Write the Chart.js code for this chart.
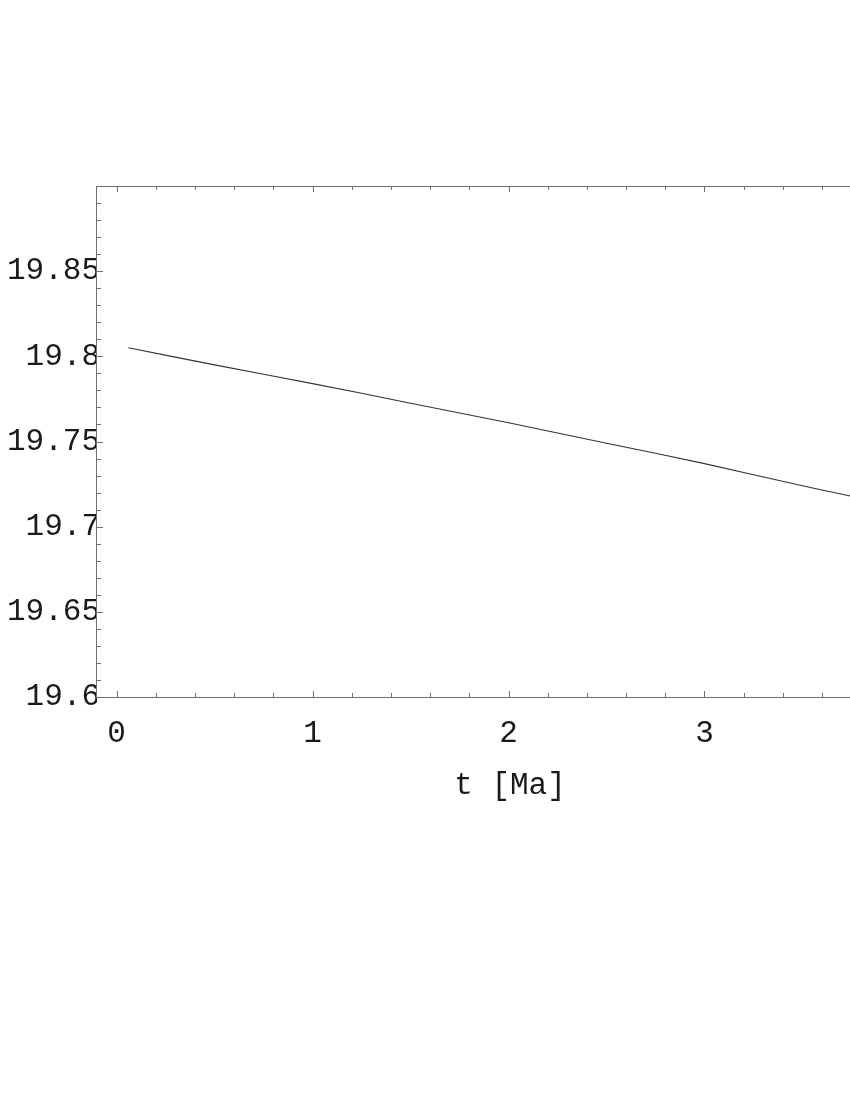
<!DOCTYPE html>
<html>
<head>
<meta charset="utf-8">
<script src="https://cdn.jsdelivr.net/npm/chart.js@4"></script>
<style>
  html, body { margin: 0; padding: 0; background: #fff; overflow: hidden; }
  #wrap { width: 930px; height: 1100px; }
</style>
</head>
<body>
<div id="wrap"><canvas id="myChart" width="930" height="1100"></canvas></div>
<script>
// values
const timeMa = [0.06, 0.5, 1.0, 1.5, 2.0, 2.5, 3.0, 3.5, 3.745];
const values = [19.805, 19.795, 19.784, 19.7725, 19.761, 19.749, 19.737, 19.724, 19.718];

const xTickLabels = [0, 1, 2, 3];
const yTickLabels = [19.6, 19.65, 19.7, 19.75, 19.8, 19.85];

const labelFont = { family: "'Liberation Mono', 'DejaVu Sans Mono', monospace", size: 31 };

// frame with inward ticks, like the original plot
const frameTicks = {
  id: 'frameTicks',
  afterDatasetsDraw(chart) {
    const { ctx, chartArea: { left, top, right, bottom }, scales: { x, y } } = chart;
    ctx.save();
    ctx.strokeStyle = '#6f6f6f';
    ctx.lineWidth = 1;
    ctx.strokeRect(Math.round(left) - 0.5, Math.round(top) + 0.5, right - left, bottom - top);

    ctx.beginPath();
    // x ticks: major every 1, minor every 0.2
    for (let i = Math.ceil(x.min / 0.2); i * 0.2 <= x.max; i++) {
      const v = i * 0.2;
      const len = (i % 5 === 0) ? 6 : 4;
      const px = Math.round(x.getPixelForValue(v)) + 0.5;
      ctx.moveTo(px, bottom); ctx.lineTo(px, bottom - len);
      ctx.moveTo(px, top); ctx.lineTo(px, top + len);
    }
    // y ticks: major every 0.05, minor every 0.01
    for (let i = Math.round(y.min / 0.01); i * 0.01 <= y.max + 1e-9; i++) {
      const len = (i % 5 === 0) ? 6 : 4;
      const py = Math.round(y.getPixelForValue(i * 0.01)) + 0.5;
      ctx.moveTo(left, py); ctx.lineTo(left + len, py);
      ctx.moveTo(right, py); ctx.lineTo(right - len, py);
    }
    ctx.stroke();
    ctx.restore();
  }
};

const ctx = document.getElementById('myChart').getContext('2d');

const config = {
  type: 'line',
  data: {
    datasets: [{
      data: timeMa.map((t, i) => ({ x: t, y: values[i] })),
      borderColor: '#333',
      borderWidth: 1.1,
      pointRadius: 0,
      fill: false,
      tension: 0.3
    }]
  },
  options: {
    responsive: false,
    animation: false,
    layout: { padding: { top: 186, right: 7, bottom: 283, left: 0 } },
    plugins: {
      legend: { display: false },
      tooltip: { enabled: false }
    },
    scales: {
      x: {
        type: 'linear',
        min: -0.1,
        max: 4.115,
        grid: { display: false, drawTicks: false },
        border: { display: false },
        afterBuildTicks(scale) {
          scale.ticks = xTickLabels.map(v => ({ value: v }));
        },
        ticks: {
          color: '#1a1a1a',
          font: labelFont,
          padding: 18,
          maxRotation: 0,
          autoSkip: false,
          callback: v => String(v)
        },
        title: {
          display: true,
          text: 't [Ma]',
          color: '#1a1a1a',
          font: labelFont,
          padding: { top: 0, bottom: 13 }
        },
        afterFit(scale) { scale.height = 120; }
      },
      y: {
        min: 19.6,
        max: 19.9,
        grid: { display: false, drawTicks: false },
        border: { display: false },
        afterBuildTicks(scale) {
          scale.ticks = yTickLabels.map(v => ({ value: v }));
        },
        ticks: {
          color: '#1a1a1a',
          font: labelFont,
          padding: -3,
          autoSkip: false,
          callback: v => String(+v.toFixed(2))
        },
        afterFit(scale) { scale.width = 97; }
      }
    }
  },
  plugins: [frameTicks]
};

new Chart(ctx, config);
</script>
</body>
</html>
